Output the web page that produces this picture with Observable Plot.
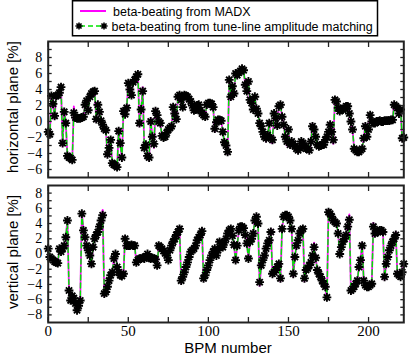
<!DOCTYPE html>
<html><head><meta charset="utf-8">
<script src="https://cdn.jsdelivr.net/npm/d3@7"></script>
<script src="https://cdn.jsdelivr.net/npm/@observablehq/plot@0.6"></script>
<style>
body{margin:0;background:#fff;}
#wrap{position:relative;width:409px;height:355px;overflow:hidden;background:#fff;font-family:"Liberation Sans",Arial,sans-serif;}
#wrap svg.plot{position:absolute;left:0;}
.ylab{position:absolute;font-size:15px;line-height:15px;white-space:nowrap;transform:translate(-50%,-50%) rotate(-90deg);color:#000;}
.xlab{position:absolute;font-size:15px;line-height:15px;white-space:nowrap;transform:translate(-50%,-50%);color:#000;}
</style></head><body><div id="wrap"></div>
<script>
// ---- data: beta-beating [%] per BPM (index = BPM number) ----
const tuneTop = [-1.3,-1.6,3.2,2.2,0.7,3.2,3.3,3.6,4.3,-2.7,
1.2,-0.2,-4.3,-4.5,-4.6,-4.8,1.1,0.5,0.4,0.4,
0.4,0.5,0.6,2.1,2.6,1.4,3.1,3.5,3.7,3.8,
0.3,2.1,1.2,0.1,-0.4,-0.9,-1.1,-4.1,-3.3,-2.3,
-5.2,-5.4,-5.5,-5.7,-1.2,-2.7,-4.5,1.3,0.9,1.7,
4.8,4.0,3.3,4.9,5.2,5.6,5.9,-0.2,1.5,3.8,
-3.3,-2.9,-4.3,-4.5,0.0,-1.9,-2.8,1.3,0.8,0.0,
-0.2,-1.8,-2.0,-1.9,-1.4,-1.0,-0.8,-0.6,1.8,1.0,
0.3,3.1,3.3,2.7,1.8,3.3,3.2,3.1,2.8,2.5,
2.0,1.4,1.5,2.0,2.1,1.4,1.0,0.8,0.6,2.1,
2.3,2.3,2.2,1.8,-0.9,-0.1,0.2,0.2,0.1,-1.3,
-2.6,-3.0,-3.8,5.2,3.1,4.4,3.5,6.0,5.8,6.1,
6.3,6.6,6.4,4.6,3.8,5.0,2.7,2.3,1.5,3.1,
1.6,1.0,-0.2,-0.6,-1.3,-1.9,-2.1,-1.7,-0.2,-2.1,
-2.3,1.0,0.4,-0.5,1.9,2.1,0.6,-0.4,-1.9,-2.5,
-1.0,-2.9,-2.5,-2.8,-3.1,-3.4,-3.6,-3.3,-2.5,-2.7,
-3.1,-3.4,-3.4,-3.6,-2.5,-0.6,-1.0,-1.9,-2.9,-3.1,
-3.0,-2.9,-2.9,-2.3,-1.9,-1.3,-0.4,-1.3,-2.3,2.7,
2.5,1.7,1.3,1.5,1.5,1.7,1.9,1.9,1.0,0.0,
-1.0,-3.4,-3.6,-3.8,-3.8,-3.6,-3.4,-2.1,-0.6,-1.9,
-1.0,0.8,0.0,-0.2,-0.2,0.0,0.0,0.1,0.0,0.0,
0.1,0.1,0.1,0.1,0.2,0.2,2.1,1.9,1.7,1.0,
1.5,-2.1,-2.0];

const madxTop = [-1.3,-1.9,3.2,2.2,0.3,3.2,3.3,3.6,4.5,-3.1,
1.6,-0.2,-4.3,-4.5,-4.6,-5.0,1.9,0.5,0.4,0.4,
0.4,0.5,0.6,2.1,2.6,1.4,3.1,3.5,3.7,3.8,
0.0,2.1,1.2,0.1,-0.4,-0.9,-1.1,-4.4,-3.3,-2.3,
-5.2,-5.4,-5.5,-5.9,-0.9,-2.7,-4.8,1.3,0.9,1.7,
4.8,4.0,3.3,4.9,5.2,5.6,6.1,-0.6,1.5,4.3,
-3.3,-2.9,-4.3,-4.8,0.4,-1.9,-3.3,1.6,0.8,0.0,
-0.2,-1.8,-2.0,-1.9,-1.4,-1.0,-0.8,-0.6,1.8,1.0,
0.3,3.1,3.3,2.7,1.8,3.3,3.2,3.1,2.8,2.5,
2.0,1.4,1.5,2.0,2.1,1.4,1.0,0.8,0.6,2.1,
2.3,2.3,2.2,1.8,-1.3,-0.1,0.2,0.2,0.1,-1.3,
-2.6,-3.0,-4.1,5.4,2.7,4.4,3.5,6.0,5.8,6.1,
6.3,6.6,6.4,4.6,3.8,5.0,2.2,2.3,1.5,3.1,
1.6,1.0,-0.2,-0.6,-1.3,-1.9,-2.5,-1.7,-0.2,-2.6,
-2.7,1.0,0.4,-0.5,1.9,2.1,0.6,-0.4,-1.9,-3.0,
-1.0,-3.3,-2.5,-2.8,-3.1,-3.4,-3.9,-3.3,-2.5,-2.7,
-3.1,-3.4,-3.4,-3.9,-2.5,-0.3,-1.0,-1.9,-2.9,-3.4,
-3.0,-2.9,-2.9,-2.3,-1.9,-1.3,-0.1,-1.3,-2.8,3.0,
2.5,1.7,1.3,1.5,1.5,1.7,1.9,1.9,1.0,0.0,
-1.0,-3.4,-3.6,-4.1,-3.8,-3.6,-3.4,-2.1,-0.3,-2.3,
-1.0,0.8,0.0,-0.2,-0.2,0.0,0.0,0.1,0.0,0.0,
0.1,0.1,0.1,0.1,0.2,0.2,2.4,1.9,1.7,1.0,
1.5,-2.4,-2.0];

const tuneBottom = [0.7,-0.4,-0.6,-0.8,-1.0,-1.1,-1.2,0.7,0.3,0.7,
1.1,2.2,4.4,-4.8,-6.1,-5.5,-5.8,-6.5,-7.4,-6.8,
-6.1,5.3,3.1,2.2,1.1,0.5,-0.2,-1.3,0.9,2.0,
2.5,2.9,3.6,4.4,5.1,-5.2,-5.0,-4.3,-3.5,-2.8,
-2.4,-0.6,0.0,-1.7,-2.4,-2.8,-2.9,-2.6,2.0,1.1,
1.1,1.1,1.2,1.1,1.1,-1.1,-0.8,-0.6,-0.6,-0.5,
-0.6,-0.3,0.0,-0.5,-0.6,-0.5,-0.6,-0.7,-1.5,1.1,
0.9,0.7,0.4,0.1,-0.2,-0.8,0.5,1.1,1.6,2.0,
2.5,2.9,3.3,-3.5,-3.0,-2.4,-1.7,-1.1,-0.4,0.3,
0.5,0.7,1.1,1.8,2.2,2.5,3.0,-3.2,-2.8,-2.1,
-1.5,-0.8,-0.2,0.3,0.7,-0.2,0.5,1.6,1.1,0.9,
1.5,2.0,2.7,3.1,3.3,2.4,1.2,-0.8,1.1,3.1,
3.6,3.6,3.4,2.5,1.4,-0.6,1.6,2.0,2.7,4.4,
4.9,4.0,-3.7,-1.5,-0.8,-0.2,0.7,1.4,1.8,2.9,
-2.6,-2.4,-2.1,-1.7,-1.3,-3.2,3.3,4.9,5.1,5.1,
4.9,4.4,3.3,-2.6,-0.4,1.1,1.8,2.7,3.1,3.3,
-3.2,-2.1,-1.9,-1.5,-1.1,-0.2,0.9,-0.5,-2.1,-2.6,
-3.0,-3.5,-3.9,-4.3,-5.7,5.5,5.3,4.9,4.4,4.2,
4.0,2.7,0.0,0.9,1.6,2.0,2.5,3.6,4.5,-4.8,
-4.6,-4.3,-3.9,-3.5,-1.7,-0.8,1.1,-3.5,-4.1,-4.3,
-4.3,-4.1,-3.9,3.6,2.7,2.9,2.9,3.1,3.1,2.9,
-3.0,-1.3,-0.4,0.5,1.1,1.6,2.0,2.5,-2.6,-2.8,
-3.0,-2.4,-1.3];

const madxBottom = [0.7,-0.4,-0.6,-0.8,-1.0,-1.1,-1.2,0.7,0.3,0.7,
1.1,2.2,4.6,-4.8,-6.1,-5.5,-5.8,-6.5,-7.6,-6.8,
-6.1,5.6,3.1,2.2,1.1,0.5,-0.2,-1.6,0.9,2.0,
2.5,2.9,3.6,4.4,5.8,-5.5,-5.0,-4.3,-3.5,-2.8,
-2.4,-0.6,0.0,-1.7,-2.4,-2.8,-2.9,-2.6,2.3,1.1,
1.1,1.1,1.2,1.1,1.1,-1.1,-0.8,-0.6,-0.6,-0.5,
-0.6,-0.3,0.0,-0.5,-0.6,-0.5,-0.6,-0.7,-1.8,1.1,
0.9,0.7,0.4,0.1,-0.2,-0.8,0.5,1.1,1.6,2.0,
2.5,2.9,3.6,-3.8,-3.0,-2.4,-1.7,-1.1,-0.4,0.3,
0.5,0.7,1.1,1.8,2.2,2.5,3.3,-3.5,-2.8,-2.1,
-1.5,-0.8,-0.2,0.3,0.7,-0.2,0.5,1.6,1.1,0.9,
1.5,2.0,2.7,3.1,3.3,2.4,1.2,-1.1,1.1,3.1,
3.6,3.6,3.4,2.5,1.4,-0.6,1.6,2.0,2.7,4.4,
5.2,4.0,-4.2,-1.5,-0.8,-0.2,0.7,1.4,1.8,3.3,
-2.6,-2.4,-2.1,-1.7,-1.3,-3.6,3.3,4.9,5.3,5.1,
4.9,4.4,3.3,-3.0,-0.4,1.1,1.8,2.7,3.1,3.3,
-3.6,-2.1,-1.9,-1.5,-1.1,-0.2,1.5,-0.5,-2.1,-2.6,
-3.0,-3.5,-3.9,-4.3,-6.0,5.8,5.3,4.9,4.4,4.2,
4.0,2.7,0.0,0.9,1.6,2.0,2.5,3.6,5.2,-5.1,
-4.6,-4.3,-3.9,-3.5,-1.7,-0.8,1.5,-3.5,-4.1,-4.3,
-4.3,-4.1,-3.9,4.1,2.7,2.9,2.9,3.1,3.1,2.9,
-3.4,-1.3,-0.4,0.5,1.1,1.6,2.0,2.9,-3.0,-2.8,
-3.0,-2.4,-1.3];

// tick labels / tick positions
const xTickLabels = [0, 50, 100, 150, 200];
const xTickMarks = [0, 25, 50, 75, 100, 125, 150, 175, 200];
const yTopLabels = [-6, -4, -2, 0, 2, 4, 6, 8];
const yTopMarks = [-6, -5, -4, -3, -2, -1, 0, 1, 2, 3, 4, 5, 6, 7, 8, 9];
const yBottomLabels = [-8, -6, -4, -2, 0, 2, 4, 6, 8];
const yBottomMarks = [-8, -7, -6, -5, -4, -3, -2, -1, 0, 1, 2, 3, 4, 5, 6, 7, 8];

const legendLabels = ["beta-beating from MADX", "beta-beating from tune-line amplitude matching"];
const yTitles = ["horizontal plane [%]", "vertical plane [%]"];
const xTitle = "BPM number";

// 8-armed star symbol
const star = {
  draw(ctx, size) {
    const r = Math.sqrt(size / Math.PI);
    for (let k = 0; k < 4; k++) {
      const a = k * Math.PI / 4, c = Math.cos(a) * r, s = Math.sin(a) * r;
      ctx.moveTo(-c, -s); ctx.lineTo(c, s);
    }
  }
};

const MAGENTA = "#ff00ff", GREEN = "#00e400", FRAME = "#222";
const serif = "'Liberation Serif','Times New Roman',serif";

function panel({tune, madx, yDomain, yLabels, yMarks, height, marginTop, marginBottom, showX}) {
  const pts = tune.map((v, i) => ({bpm: i, v}));
  const mpts = madx.map((v, i) => ({bpm: i, v}));
  const marks = [
    Plot.lineY(mpts, {x: "bpm", y: "v", stroke: MAGENTA, strokeWidth: 1.8}),
    Plot.lineY(pts, {x: "bpm", y: "v", stroke: GREEN, strokeWidth: 1.5, strokeDasharray: "5,3"}),
    Plot.dot(pts, {x: "bpm", y: "v", symbol: star, r: 4.4, stroke: "#000", strokeWidth: 1.9, fill: "none"}),
    Plot.frame({stroke: FRAME, strokeWidth: 2}),
    Plot.axisX({anchor: "bottom", ticks: xTickMarks, tickSize: -5, tickFormat: () => "", label: null, stroke: FRAME, strokeWidth: 1.3}),
    Plot.axisX({anchor: "top", ticks: xTickMarks, tickSize: -5, tickFormat: () => "", label: null, stroke: FRAME, strokeWidth: 1.3}),
    Plot.axisY({anchor: "left", ticks: yMarks, tickSize: -4, tickFormat: () => "", label: null, stroke: FRAME, strokeWidth: 1.3}),
    Plot.axisY({anchor: "right", ticks: yMarks, tickSize: -4, tickFormat: () => "", label: null, stroke: FRAME, strokeWidth: 1.3}),
    Plot.axisY({anchor: "left", ticks: yLabels, tickSize: 0, tickPadding: 6, label: null, fontSize: 14, fontFamily: serif, fill: "#000"})
  ];
  if (showX) marks.push(Plot.axisX({anchor: "bottom", ticks: xTickLabels, tickSize: 0, tickPadding: 3, label: null, fontSize: 15, fontFamily: serif, fill: "#000"}));
  const svg = Plot.plot({
    width: 409, height, marginLeft: 47.7, marginRight: 5.7, marginTop, marginBottom,
    x: {domain: [0, 222]},
    y: {domain: yDomain},
    style: {background: "transparent", overflow: "visible"},
    marks
  });
  svg.classList.add("plot");
  return svg;
}

const wrap = document.getElementById("wrap");

// legend (decoration)
const ns = "http://www.w3.org/2000/svg";
const leg = document.createElementNS(ns, "svg");
leg.setAttribute("width", 409); leg.setAttribute("height", 40);
leg.style.position = "absolute"; leg.style.left = "0"; leg.style.top = "0";
function starPath(cx, cy, r) {
  let d = "";
  for (let k = 0; k < 4; k++) {
    const a = k * Math.PI / 4, c = Math.cos(a) * r, s = Math.sin(a) * r;
    d += `M${cx - c},${cy - s}L${cx + c},${cy + s}`;
  }
  return d;
}
leg.innerHTML = `
<rect x="72.5" y="0.75" width="305" height="35" fill="#fff" stroke="#000" stroke-width="1.5"/>
<line x1="80" x2="106" y1="11" y2="11" stroke="${MAGENTA}" stroke-width="2"/>
<text x="113" y="15.5" font-size="12.5" font-family="'Liberation Sans',Arial,sans-serif">${legendLabels[0]}</text>
<line x1="80" x2="104" y1="26" y2="26" stroke="${GREEN}" stroke-width="1.5" stroke-dasharray="5,3"/>
<path d="${starPath(79, 26, 3.6)}${starPath(104, 26, 3.6)}" stroke="#000" stroke-width="1.6"/>
<text x="111.5" y="30.5" font-size="12.5" font-family="'Liberation Sans',Arial,sans-serif">${legendLabels[1]}</text>`;

const topPanel = panel({tune: tuneTop, madx: madxTop, yDomain: [-7, 10], yLabels: yTopLabels, yMarks: yTopMarks, height: 145, marginTop: 5, marginBottom: 4, showX: false});
topPanel.style.top = "36px";
const botPanel = panel({tune: tuneBottom, madx: madxBottom, yDomain: [-9, 9], yLabels: yBottomLabels, yMarks: yBottomMarks, height: 174, marginTop: 4, marginBottom: 33, showX: true});
botPanel.style.top = "181px";

wrap.appendChild(topPanel);
wrap.appendChild(botPanel);
wrap.appendChild(leg);

function addDiv(cls, text, x, y) {
  const d = document.createElement("div");
  d.className = cls; d.textContent = text;
  d.style.left = x + "px"; d.style.top = y + "px";
  wrap.appendChild(d);
}
addDiv("ylab", yTitles[0], 12, 107);
addDiv("ylab", yTitles[1], 12, 252);
addDiv("xlab", xTitle, 228, 347);
</script></body></html>
